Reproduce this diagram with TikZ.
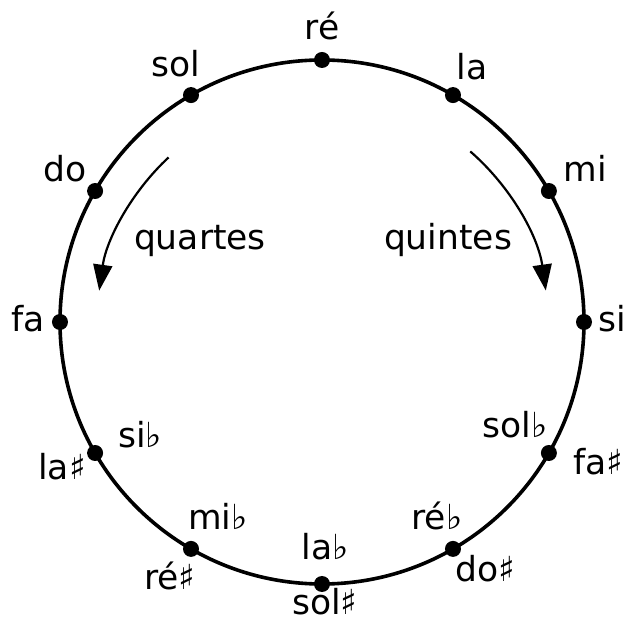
\documentclass[tikz,border=0pt]{standalone}
\usepackage{fontspec}
\setmainfont{DejaVu Sans}
\usetikzlibrary{arrows.meta}
\begin{document}
\begin{tikzpicture}[x=1pt,y=1pt,
  lbl/.style={font=\fontsize{34.5}{40}\selectfont, inner sep=0pt, anchor=base},
  dot/.style={circle, fill=black, inner sep=0pt, minimum size=16pt},
  arr/.style={line width=2.2pt, -{Triangle[length=26pt,width=19pt]}}]
\useasboundingbox (-322,-301) rectangle (305,322);
\coordinate (C) at (0,0);
\draw[line width=3.6pt] (C) circle (262);
\foreach \a/\n in {90/d0,60/d1,30/d2,0/d3,-30/d4,-60/d5,-90/d6,-120/d7,-150/d8,180/d9,150/d10,120/d11}
  \node[dot] (\n) at (\a:262) {};
% labels (positions given at baseline centre)
\node[lbl] (l0) at (0,282) {ré};
\node[lbl] (l1) at (150,242) {la};
\node[lbl] (l2) at (263,140) {mi};
\node[lbl] (l3) at (290,-10) {si};
\node[lbl] (l4a) at (193,-116) {sol♭};
\node[lbl] (l4b) at (276,-153) {fa♯};
\node[lbl] (l5a) at (115,-208) {ré♭};
\node[lbl] (l5b) at (163,-260) {do♯};
\node[lbl] (l6a) at (3,-238) {la♭};
\node[lbl] (l6b) at (3,-293) {sol♯};
\node[lbl] (l7a) at (-104,-208) {mi♭};
\node[lbl] (l7b) at (-152,-268) {ré♯};
\node[lbl] (l8a) at (-182,-126) {si♭};
\node[lbl] (l8b) at (-260,-158) {la♯};
\node[lbl] (l9) at (-294,-10) {fa};
\node[lbl] (l10) at (-257,140) {do};
\node[lbl] (l11) at (-146,245) {sol};
\node[lbl] (q4) at (-122,72) {quartes};
\node[lbl] (q5) at (126,72) {quintes};
% arrows
\coordinate (a4s) at (133:225);
\coordinate (a5s) at (49:226);
\draw[arr] (a4s) arc[start angle=133, end angle=172, radius=225];
\draw[arr] (a5s) arc[start angle=49, end angle=8, radius=226];
\end{tikzpicture}
\end{document}
